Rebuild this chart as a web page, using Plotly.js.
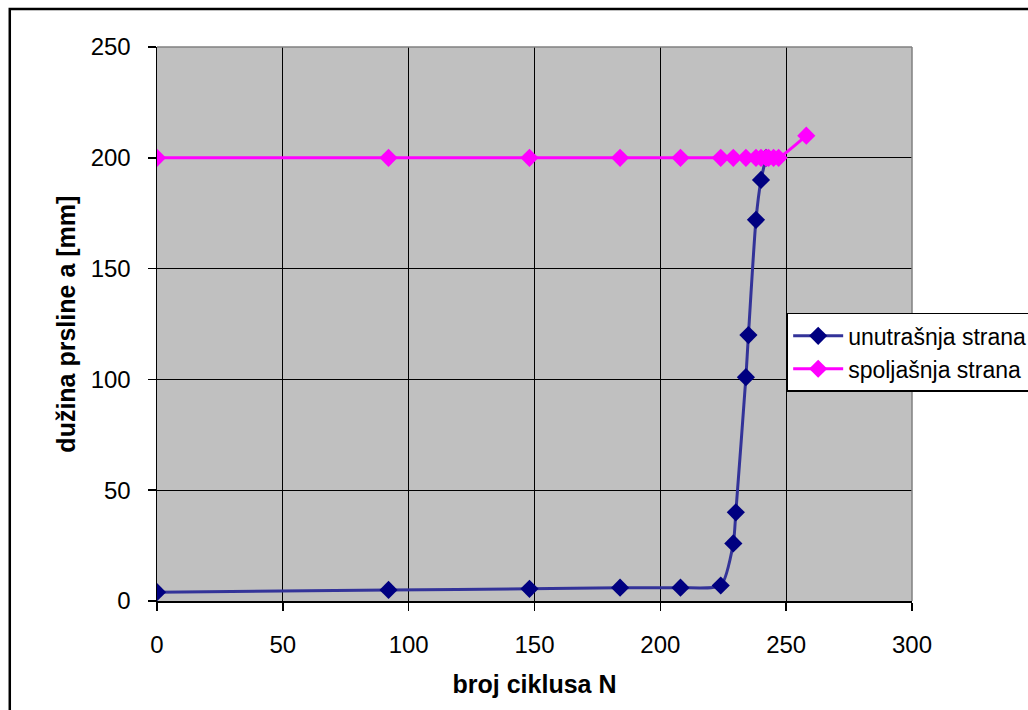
<!DOCTYPE html>
<html>
<head>
<meta charset="utf-8">
<script src="https://cdn.plot.ly/plotly-3.0.1.min.js"></script>
<style>body{margin:0;padding:0;background:#fff;}#chart{width:1028px;height:710px;}</style>
</head>
<body>
<div id="chart"></div>
<script>
// Data
const innerN = [0, 92, 148, 184, 208, 224, 229, 230, 234, 235, 238, 240, 242];
const innerA = [4, 5, 5.5, 6, 6, 7, 26, 40, 101, 120, 172, 190, 200];
const outerN = [0, 92, 148, 184, 208, 224, 229, 234, 238, 240, 242, 243, 245, 247, 258];
const outerA = [200, 200, 200, 200, 200, 200, 200, 200, 200, 200, 200, 200, 200, 200, 210];
const seriesNames = ['unutrašnja strana', 'spoljašnja strana'];
const xTitle = 'broj ciklusa N';
const yTitle = 'dužina prsline a [mm]';
const xTicks = [0, 50, 100, 150, 200, 250, 300];
const yTicks = [0, 50, 100, 150, 200, 250];

const font = 'Liberation Sans, Arial, sans-serif';

const traces = [
  {
    x: innerN, y: innerA, name: seriesNames[0], type: 'scatter', mode: 'lines+markers',
    line: {color: '#333399', width: 3, shape: 'spline', smoothing: 0.6},
    marker: {symbol: 'diamond', size: 14, color: '#000080'}
  },
  {
    x: outerN, y: outerA, name: seriesNames[1], type: 'scatter', mode: 'lines+markers',
    line: {color: '#FF00FF', width: 3, shape: 'spline', smoothing: 0.6},
    marker: {symbol: 'diamond', size: 14, color: '#FF00FF'}
  }
];

const layout = {
  width: 1028, height: 710,
  paper_bgcolor: '#ffffff',
  plot_bgcolor: '#c0c0c0',
  margin: {l: 157, r: 116, t: 47, b: 109, autoexpand: false},
  font: {family: font, color: '#000'},
  showlegend: true,
  legend: {
    x: 0.834, y: 0.52, xanchor: 'left', yanchor: 'top',
    bgcolor: '#ffffff', bordercolor: '#000', borderwidth: 1.5,
    font: {family: font, size: 23, color: '#000'},
    itemwidth: 50, tracegroupgap: 0
  },
  xaxis: {
    range: [0, 300], tickvals: xTicks, ticktext: xTicks.map(String),
    showgrid: true, gridcolor: '#000', gridwidth: 1,
    zeroline: false, showline: true, linecolor: '#000', linewidth: 1.5,
    ticks: 'outside', ticklen: 8, tickcolor: '#000', tickwidth: 1.5,
    tickfont: {family: font, size: 24, color: '#000'},
    ticklabelstandoff: 14,
    automargin: false,
    title: {text: xTitle, font: {family: font, size: 25, color: '#000', weight: 'bold'}, standoff: 18}
  },
  yaxis: {
    range: [0, 250], tickvals: yTicks, ticktext: yTicks.map(String),
    showgrid: true, gridcolor: '#000', gridwidth: 1,
    zeroline: false, showline: true, linecolor: '#000', linewidth: 1.5,
    ticks: 'outside', ticklen: 8, tickcolor: '#000', tickwidth: 1.5,
    tickfont: {family: font, size: 24, color: '#000'},
    ticklabelstandoff: 12,
    automargin: false
  },
  annotations: [
    {text: yTitle, xref: 'paper', yref: 'paper', x: -0.121, y: 0.5, xanchor: 'center', yanchor: 'middle',
     textangle: -90, showarrow: false, font: {family: font, size: 25, color: '#000', weight: 'bold'}}
  ],
  shapes: [
    {type: 'line', xref: 'paper', yref: 'paper', x0: 0, x1: 1, y0: 1, y1: 1, line: {color: '#808080', width: 1.5}, layer: 'above'},
    {type: 'line', xref: 'paper', yref: 'paper', x0: 1, x1: 1, y0: 0, y1: 1, line: {color: '#808080', width: 1.5}, layer: 'above'},
    {type: 'rect', xref: 'paper', yref: 'paper', x0: -0.195, x1: 1.2, y0: -0.25, y1: 1.0686, line: {color: '#000', width: 2.5}, fillcolor: 'rgba(0,0,0,0)', layer: 'above'}
  ]
};

Plotly.newPlot('chart', traces, layout, {displayModeBar: false, staticPlot: true});
</script>
</body>
</html>
